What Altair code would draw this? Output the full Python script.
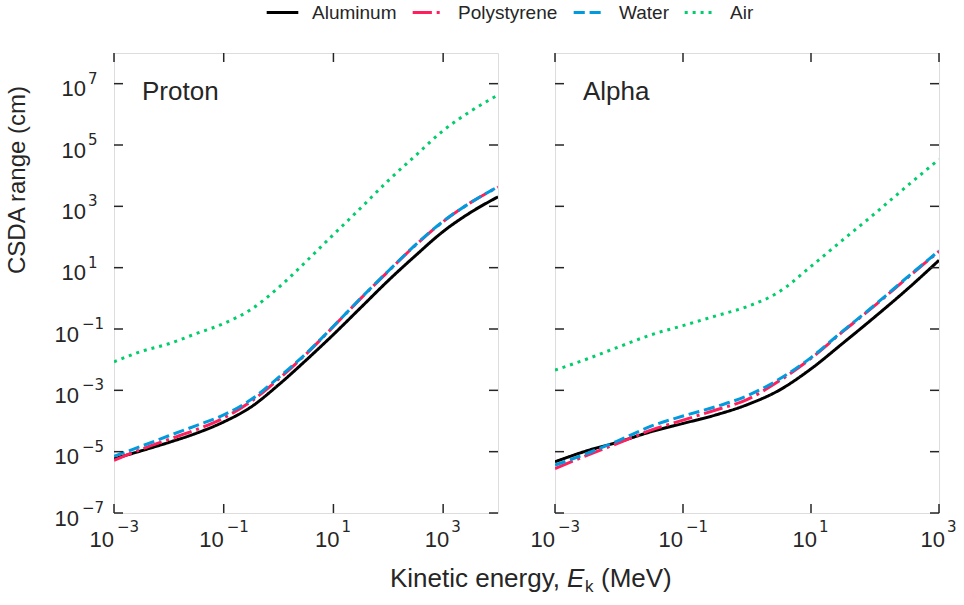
import altair as alt
import pandas as pd

FONT = "Liberation Sans"
MATH_FONT = "DejaVu Sans"
TEXT = "#262626"
SPINE = "#262626"

materials = ["Aluminum", "Polystyrene", "Water", "Air"]
line_colors = ["#000000", "#FF1F5B", "#009ADE", "#00CD6C"]
line_dashes = [[1, 0], [19.2, 4.8, 3, 4.8], [11.1, 4.8], [3, 4.95]]

# Proton (CSDA range in cm vs kinetic energy in MeV)
proton_energy = [1e-3, 3.16e-3, 1e-2, 3.16e-2, 0.1, 0.316, 1, 3.16, 10, 31.6,
                 100, 316, 1000, 3160, 10000]
proton_aluminum = [5.89e-6, 1.07e-5, 2.00e-5, 3.98e-5, 9.33e-5, 2.88e-4, 1.51e-3,
                   9.55e-3, 6.61e-2, 0.501, 3.80, 25.1, 151, 631, 2040]
proton_polystyrene = [5.25e-6, 1.20e-5, 2.51e-5, 5.25e-5, 1.26e-4, 4.37e-4, 2.34e-3,
                      1.51e-2, 0.120, 1.00, 7.59, 55.0, 316, 1320, 4270]
proton_water = [7.08e-6, 1.51e-5, 3.31e-5, 7.08e-5, 1.58e-4, 5.01e-4, 2.63e-3,
                1.58e-2, 0.123, 1.02, 7.76, 56.2, 324, 1320, 4370]
proton_air = [8.51e-3, 1.86e-2, 3.31e-2, 7.08e-2, 0.151, 0.437, 2.24, 15.8, 120,
              891, 6920, 4.57e4, 2.95e5, 1.26e6, 4.27e6]

# Alpha
alpha_energy = [1e-3, 3.16e-3, 1e-2, 3.16e-2, 0.1, 0.316, 1, 3.16, 10, 31.6,
                100, 316, 1000]
alpha_aluminum = [4.68e-6, 1.07e-5, 2.09e-5, 4.47e-5, 8.32e-5, 1.55e-4, 3.39e-4,
                  1.00e-3, 5.01e-3, 3.47e-2, 0.251, 1.95, 17.4]
alpha_polystyrene = [2.82e-6, 7.59e-6, 1.95e-5, 5.01e-5, 1.07e-4, 2.24e-4, 5.01e-4,
                     2.00e-3, 1.10e-2, 8.32e-2, 0.589, 4.57, 33.9]
alpha_water = [3.63e-6, 8.71e-6, 2.34e-5, 6.76e-5, 1.45e-4, 2.88e-4, 6.61e-4,
               2.29e-3, 1.17e-2, 8.71e-2, 0.617, 4.79, 35.5]
alpha_air = [4.57e-3, 1.05e-2, 2.63e-2, 6.46e-2, 0.129, 0.263, 0.537, 1.62, 11.0,
             81.3, 589, 4570, 3.39e4]

x_tick_values = [1e-3, 1e-1, 1e1, 1e3]
x_tick_exponents = ["−3", "−1", "1", "3"]
y_tick_values = [1e-7, 1e-5, 1e-3, 1e-1, 1e1, 1e3, 1e5, 1e7]
y_tick_exponents = ["−7", "−5", "−3", "−1", "1", "3", "5", "7"]

W, H = 384, 460
TICK = 9
TICK_FS = 22
EXP_FS = 15
TITLE_FS = 26


def panel(energy, series, x_max, name, with_y_labels, with_titles):
    rows = []
    for m, vals in zip(materials, series):
        for e, r in zip(energy, vals):
            rows.append({"E": e, "R": r, "Material": m})
    df = pd.DataFrame(rows)
    xs = alt.Scale(type="log", domain=[1e-3, x_max], nice=False)
    ys = alt.Scale(type="log", domain=[1e-7, 1e8], nice=False)
    legend = alt.Legend(
        title=None, orient="none", legendX=151, legendY=-58, direction="horizontal",
        symbolType="stroke", symbolSize=1000, symbolStrokeWidth=3,
        labelFont=FONT, labelFontSize=19, labelColor=TEXT, labelOffset=12,
        columnPadding=9, padding=0, gridAlign="none",
    )
    lines = alt.Chart(df).mark_line(strokeWidth=3, interpolate="monotone", clip=True).encode(
        x=alt.X("E:Q", scale=xs, axis=None),
        y=alt.Y("R:Q", scale=ys, axis=None),
        color=alt.Color("Material:N", scale=alt.Scale(domain=materials, range=line_colors),
                        legend=legend),
        strokeDash=alt.StrokeDash("Material:N",
                                  scale=alt.Scale(domain=materials, range=line_dashes),
                                  legend=legend),
    )

    xt = pd.DataFrame({"v": x_tick_values, "exp": x_tick_exponents,
                       "neg": [e.startswith("−") for e in x_tick_exponents]})
    xt = xt[xt["v"] <= x_max]
    yt = pd.DataFrame({"v": y_tick_values, "exp": y_tick_exponents,
                       "neg": [e.startswith("−") for e in y_tick_exponents]})

    xenc = alt.X("v:Q", scale=xs, axis=None)
    yenc = alt.Y("v:Q", scale=ys, axis=None)
    rule = dict(color=SPINE, strokeWidth=1.5)
    layers = [lines]
    layers.append(alt.Chart(xt).mark_rule(**rule).encode(x=xenc, y=alt.value(H), y2=alt.value(H - TICK)))
    layers.append(alt.Chart(xt).mark_rule(**rule).encode(x=xenc, y=alt.value(0), y2=alt.value(TICK)))
    layers.append(alt.Chart(yt).mark_rule(**rule).encode(y=yenc, x=alt.value(0), x2=alt.value(TICK)))
    layers.append(alt.Chart(yt).mark_rule(**rule).encode(y=yenc, x=alt.value(W), x2=alt.value(W - TICK)))

    tstyle = dict(font=FONT, color=TEXT, baseline="alphabetic")
    estyle = dict(font=MATH_FONT, color=TEXT, baseline="alphabetic")
    # x tick labels: "10" plus exponent
    for neg, d10, dexp in [(True, 0, 3), (False, 6, 8)]:
        sub = xt[xt["neg"] == neg]
        base = alt.Chart(sub)
        layers.append(base.mark_text(align="right", fontSize=TICK_FS, dx=d10, **tstyle).encode(
            x=xenc, y=alt.value(H + 34), text=alt.value("10")))
        layers.append(base.mark_text(align="left", fontSize=EXP_FS, dx=dexp, **estyle).encode(
            x=xenc, y=alt.value(H + 19), text="exp:N"))
    if with_y_labels:
        for neg, x10, xexp in [(True, -35, -32), (False, -28, -26)]:
            sub = yt[yt["neg"] == neg]
            base = alt.Chart(sub)
            layers.append(base.mark_text(align="right", fontSize=TICK_FS, dy=12.5, **tstyle).encode(
                y=yenc, x=alt.value(x10), text=alt.value("10")))
            layers.append(base.mark_text(align="left", fontSize=EXP_FS, dy=0, **estyle).encode(
                y=yenc, x=alt.value(xexp), text="exp:N"))

    layers.append(alt.Chart(pd.DataFrame({"t": [name]})).mark_text(
        align="left", fontSize=26, **tstyle).encode(text="t:N", x=alt.value(28), y=alt.value(47)))

    if with_titles:
        layers.append(alt.Chart(pd.DataFrame({"t": ["CSDA range (cm)"]})).mark_text(
            align="center", baseline="middle", angle=270, fontSize=24, font=FONT, color=TEXT
        ).encode(text="t:N", x=alt.value(-96), y=alt.value(127)))
        layers.append(alt.Chart(pd.DataFrame({"t": ["Kinetic energy,"]})).mark_text(
            align="right", fontSize=TITLE_FS, **tstyle).encode(
            text="t:N", x=alt.value(446), y=alt.value(534)))
        layers.append(alt.Chart(pd.DataFrame({"t": ["E"]})).mark_text(
            align="left", fontSize=TITLE_FS, fontStyle="italic", **tstyle).encode(
            text="t:N", x=alt.value(453), y=alt.value(534)))
        layers.append(alt.Chart(pd.DataFrame({"t": ["k"]})).mark_text(
            align="left", fontSize=17, **tstyle).encode(
            text="t:N", x=alt.value(471), y=alt.value(538.5)))
        layers.append(alt.Chart(pd.DataFrame({"t": ["(MeV)"]})).mark_text(
            align="left", fontSize=TITLE_FS, **tstyle).encode(
            text="t:N", x=alt.value(487), y=alt.value(534)))

    return alt.layer(*layers).properties(width=W, height=H)


left = panel(proton_energy,
             [proton_aluminum, proton_polystyrene, proton_water, proton_air],
             1e4, "Proton", True, True)
right = panel(alpha_energy,
              [alpha_aluminum, alpha_polystyrene, alpha_water, alpha_air],
              1e3, "Alpha", False, False)

chart = alt.hconcat(left, right, spacing=57, bounds="flush").properties(
    padding={"left": 5, "top": -5, "right": 5, "bottom": 5}
).configure_view(stroke=SPINE, strokeWidth=1.5).configure(background="white")

chart.save("out.html", embed_options={"renderer": "svg", "actions": False})
